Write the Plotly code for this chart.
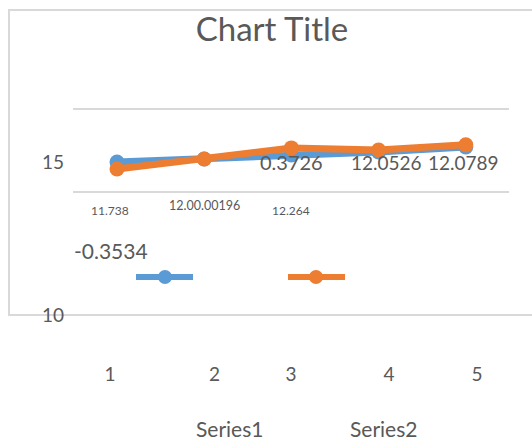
import plotly.graph_objects as go

# ---- data ----
categories = [1, 2, 3, 4, 5]
series1 = [15.00, 15.10, 15.23, 15.33, 15.49]
series2 = [14.77, 15.10, 15.46, 15.39, 15.56]
series_names = ["Series1", "Series2"]
x_tick_labels = ["1", "2", "3", "4", "5"]
y_tick_values = [15, 10]
y_tick_labels = ["15", "10"]
data_labels = ["11.738", "12.00.00196", "12.264", "0.3726", "12.0526", "12.0789", "-0.3534"]

# ---- layout / style ----
W, H = 532, 444
FONT = "Lato"
GREY = "#595959"
BLUE = "#5B9BD5"
ORANGE = "#ED7D31"
GRID = "#d9d9d9"

# positions of x tick labels (in x data units) and gridlines (y data units)
x_tick_pos = [0.920, 2.118, 2.995, 4.119, 5.128]
grid_pos = [16.73, 14.02]
# label placements in pixels (x, y, font size)
label_place = [(110, 210, 12), (204, 205, 12.5), (291, 210, 12),
               (291, 162, 20), (387, 162, 19), (463, 162, 19), (111, 250, 21)]

def px(x):
    return x / W

def py(y):
    return 1 - y / H

fig = go.Figure()
for name, vals, col in [(series_names[0], series1, BLUE), (series_names[1], series2, ORANGE)]:
    fig.add_trace(go.Scatter(
        x=categories, y=vals, name=name, mode="lines+markers",
        line=dict(color=col, width=7), marker=dict(color=col, size=15),
        showlegend=False, hoverinfo="skip"))

# invisible trace on overlaying y axis for tick labels
fig.add_trace(go.Scatter(x=[categories[0]], y=[series1[0]], yaxis="y2",
                         mode="markers", marker=dict(opacity=0),
                         showlegend=False, hoverinfo="skip"))

yrange = [10, 15 + (162 - 100) / 30.6]
fig.update_layout(
    width=W, height=H, autosize=False,
    margin=dict(l=0, r=0, t=0, b=0, pad=0, autoexpand=False),
    paper_bgcolor="white", plot_bgcolor="white",
    font=dict(family=FONT, color=GREY),
    title=dict(text="Chart Title", x=px(272), y=py(29), xanchor="center",
               yanchor="middle", font=dict(size=33, color=GREY, family=FONT)),
    xaxis=dict(domain=[px(73), px(509)], range=[1 - 44 / 87.2, 1 + 392 / 87.2],
               showgrid=False, zeroline=False, showline=False,
               tickmode="array", tickvals=x_tick_pos, ticktext=x_tick_labels,
               ticks="", ticklabelstandoff=46, automargin=False,
               tickfont=dict(size=19, color=GREY, family=FONT)),
    yaxis=dict(domain=[py(315), py(100)], range=yrange,
               tickmode="array", tickvals=grid_pos, showticklabels=False,
               showgrid=True, gridcolor=GRID, gridwidth=2, automargin=False,
               zeroline=False, showline=False, ticks=""),
    yaxis2=dict(overlaying="y", range=yrange, side="left", anchor="x",
                tickmode="array", tickvals=y_tick_values, ticktext=y_tick_labels,
                showgrid=False, zeroline=False, showline=False, ticks="",
                ticklabelstandoff=8, automargin=False,
                tickfont=dict(size=19, color=GREY, family=FONT)),
)

# chart border
fig.add_shape(type="rect", xref="paper", yref="paper",
              x0=px(9), x1=px(W + 10), y0=py(315), y1=py(10),
              line=dict(color=GRID, width=2), layer="below")

# data labels
for txt, (lx, ly, fs) in zip(data_labels, label_place):
    fig.add_annotation(text=txt, xref="paper", yref="paper", x=px(lx), y=py(ly),
                       xanchor="center", yanchor="middle", showarrow=False,
                       font=dict(size=fs, color=GREY, family=FONT))

# legend (symbols and names drawn apart, as in the reference)
legend_sym = [(136, 193, 165, BLUE), (288, 345, 316, ORANGE)]
legend_txt = [(229, 428), (383, 428)]
for (x0, x1, xc, col), (tx, ty), name in zip(legend_sym, legend_txt, series_names):
    fig.add_shape(type="line", xref="paper", yref="paper",
                  x0=px(x0), x1=px(x1), y0=py(277), y1=py(277),
                  line=dict(color=col, width=6))
    fig.add_shape(type="circle", xref="paper", yref="paper",
                  x0=px(xc - 7), x1=px(xc + 7), y0=py(284), y1=py(270),
                  line=dict(color=col, width=0), fillcolor=col)
    fig.add_annotation(text=name, xref="paper", yref="paper", x=px(tx), y=py(ty),
                       xanchor="center", yanchor="middle", showarrow=False,
                       font=dict(size=21, color=GREY, family=FONT))

fig.write_html("out.html", config={"displayModeBar": False},
               post_script="document.body.style.margin='0';"
                           "document.body.style.overflow='hidden';")
